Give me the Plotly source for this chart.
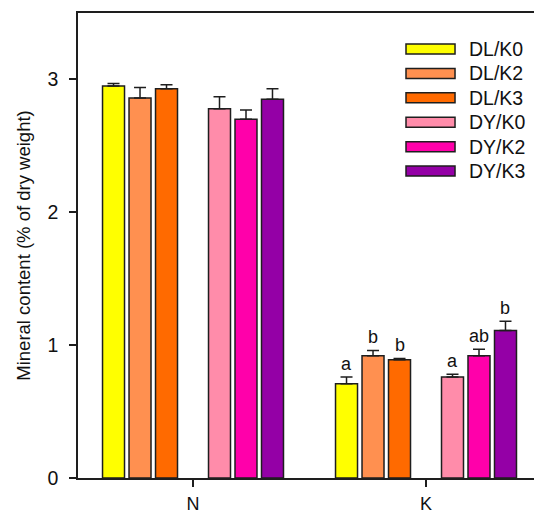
import plotly.graph_objects as go

# Nutrients on the x axis
categories = ["N", "K"]

# Treatment series (mean, SE), % of dry weight
series_names = ["DL/K0", "DL/K2", "DL/K3", "DY/K0", "DY/K2", "DY/K3"]
dl_k0 = [2.95, 0.71]
dl_k2 = [2.86, 0.92]
dl_k3 = [2.93, 0.89]
dy_k0 = [2.78, 0.76]
dy_k2 = [2.70, 0.92]
dy_k3 = [2.85, 1.11]

dl_k0_se = [0.02, 0.05]
dl_k2_se = [0.08, 0.04]
dl_k3_se = [0.03, 0.01]
dy_k0_se = [0.09, 0.02]
dy_k2_se = [0.07, 0.05]
dy_k3_se = [0.08, 0.07]

# Significance letters (blank where none is shown)
dl_k0_sig = ["", "a"]
dl_k2_sig = ["", "b"]
dl_k3_sig = ["", "b"]
dy_k0_sig = ["", "a"]
dy_k2_sig = ["", "ab"]
dy_k3_sig = ["", "b"]

y_ticks = [0, 1, 2, 3]

colors = ["#FFFF00", "#FF9050", "#FF6A00", "#FF8CAA", "#FF00AA", "#9400A6"]

means = [dl_k0, dl_k2, dl_k3, dy_k0, dy_k2, dy_k3]
errors = [dl_k0_se, dl_k2_se, dl_k3_se, dy_k0_se, dy_k2_se, dy_k3_se]
letters = [dl_k0_sig, dl_k2_sig, dl_k3_sig, dy_k0_sig, dy_k2_sig, dy_k3_sig]

FONT = "Liberation Sans, Arial, sans-serif"
EDGE = "#1e1e1e"

fig = go.Figure()


def add_series(i):
    fig.add_trace(go.Bar(
        name=series_names[i],
        x=categories,
        y=means[i],
        marker=dict(color=colors[i], line=dict(color=EDGE, width=1.5)),
        error_y=dict(type="data", symmetric=False, array=errors[i],
                     arrayminus=[0] * len(categories),
                     color=EDGE, thickness=1.5, width=6),
        showlegend=False,
        offsetgroup=str(i),
    ))


for i in range(3):
    add_series(i)

# empty slot between the DL and DY groups
fig.add_trace(go.Bar(
    x=categories, y=[0, 0], marker=dict(color="rgba(0,0,0,0)", line=dict(width=0)),
    hoverinfo="skip", showlegend=False, offsetgroup="gap",
))

for i in range(3, 6):
    add_series(i)

# significance letters above the error bars
n_slots = 7
slot_index = [0, 1, 2, 4, 5, 6]
group_w = 1 - 0.204
for i, name in enumerate(series_names):
    for j, cat in enumerate(categories):
        if not letters[i][j]:
            continue
        off = (slot_index[i] - (n_slots - 1) / 2) * group_w / n_slots
        fig.add_annotation(
            x=j + off, y=means[i][j] + errors[i][j], xref="x", yref="y",
            text=letters[i][j], showarrow=False, yanchor="bottom", yshift=1,
            font=dict(family=FONT, size=18, color="#111"),
        )

# legend drawn as wide swatches with labels
x0, x1, xt = 0.7193, 0.8268, 0.8530
y_first, pitch, h = 0.9226, 0.0525, 0.0215
for i, name in enumerate(series_names):
    yc = y_first - i * pitch
    fig.add_shape(type="rect", xref="paper", yref="paper",
                  x0=x0, x1=x1, y0=yc - h / 2, y1=yc + h / 2,
                  fillcolor=colors[i], line=dict(color=EDGE, width=1.5))
    fig.add_annotation(xref="paper", yref="paper", x=xt, y=yc, text=name,
                       showarrow=False, xanchor="left", yanchor="middle",
                       font=dict(family=FONT, size=19.5, color="#111"))

fig.update_layout(
    width=534, height=514,
    margin=dict(l=78, r=0, t=13, b=36),
    paper_bgcolor="white", plot_bgcolor="white",
    barmode="group", bargap=0.204, bargroupgap=0.17,
    font=dict(family=FONT, size=19, color="#111"),
    xaxis=dict(
        type="category", range=[-0.4936, 1.4635], automargin=False,
        showline=True, linecolor=EDGE, linewidth=1.5, mirror=True,
        ticks="outside", ticklen=7, tickcolor=EDGE, tickwidth=1.5,
        showgrid=False, zeroline=False, ticklabelstandoff=2,
        tickfont=dict(family=FONT, size=18),
    ),
    yaxis=dict(
        range=[0, 3.5], tickvals=y_ticks, automargin=False,
        showline=True, linecolor=EDGE, linewidth=1.5, mirror=False,
        ticks="outside", ticklen=7, tickcolor=EDGE, tickwidth=1.5,
        showgrid=False, zeroline=False, ticklabelstandoff=7,
        tickfont=dict(family=FONT, size=19.5),
        title=dict(text="Mineral content (% of dry weight)",
                   font=dict(family=FONT, size=18.5), standoff=12),
    ),
)

fig.write_html("out.html")
